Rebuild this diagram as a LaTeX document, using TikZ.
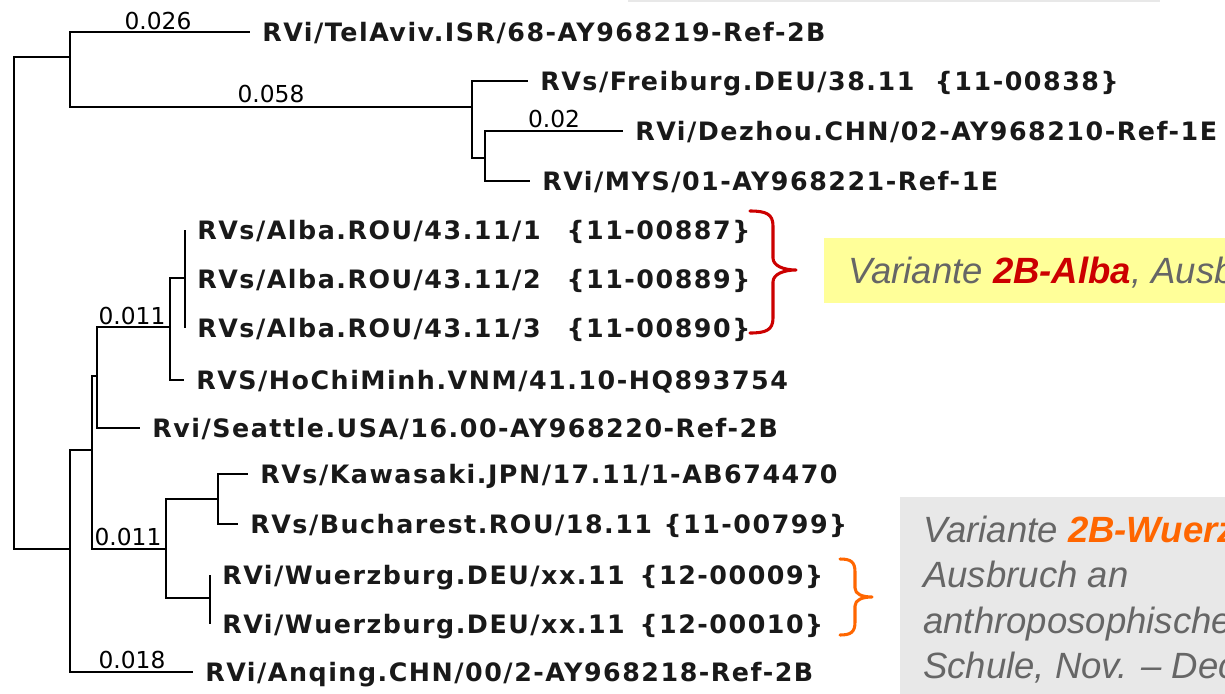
\documentclass[tikz,border=0pt]{standalone}
\usepackage{fontspec}
\setmainfont{Liberation Sans}
\newfontfamily\treefont[LetterSpace=6]{DejaVu Sans}
\newfontfamily\lenfont{DejaVu Sans}
\definecolor{altred}{HTML}{CC0000}
\definecolor{orng}{HTML}{FF6600}
\definecolor{txtgray}{HTML}{666666}
\definecolor{ylw}{HTML}{FFFF99}
\definecolor{lgray}{HTML}{E8E8E8}
\begin{document}
\begin{tikzpicture}[x=0.75pt,y=-0.75pt,
  leaf/.style={anchor=west, inner xsep=9pt, inner ysep=0pt,
    font=\treefont\bfseries\fontsize{19}{21}\selectfont,
    text height=13.9pt, text depth=0pt, text=black!90},
  blen/.style={anchor=base, inner sep=0pt, font=\lenfont\fontsize{17.5}{19}\selectfont},
  branch/.style={line width=1.4pt, black},
  ann/.style={anchor=base west, inner sep=0pt, text=txtgray,
    font=\itshape\fontsize{27.4}{34}\selectfont},
  bracestyle/.style={line width=2.3pt, line cap=round, line join=round}
]
\useasboundingbox (0,0) rectangle (1225,693);
\begin{scope}
\clip (0,0) rectangle (1225,693);
\fill[lgray] (628,-5) rectangle (1160,2);
\fill[ylw] (824,238) rectangle (1240,303);
\node[ann] (alba) at (848,283) {Variante \textbf{\color{altred}2B-Alba}, Ausbruch};
\fill[lgray] (900,497) rectangle (1240,700);
\node[ann] (w1) at (923,542) {Variante \textbf{\color{orng}2B-Wuerzburg},};
\node[ann] (w2) at (923,587) {Ausbruch an};
\node[ann] (w3) at (923,633) {anthroposophischen};
\node[ann] (w4) at (923,678) {Schule, Nov. -- Dec.};
\end{scope}

% internal nodes
\coordinate (root) at (14,303);
\coordinate (n1) at (70,57);
\coordinate (n2) at (472,107);
\coordinate (n3) at (485,158);
\coordinate (n4) at (70,549);
\coordinate (n5) at (92,450);
\coordinate (n6) at (97,376);
\coordinate (n7) at (170,327);
\coordinate (n8) at (185,278);
\coordinate (n9) at (166,549);
\coordinate (n10) at (218,499);
\coordinate (n11) at (210,598);

% leaves
\node[leaf] (telaviv) at (250,32) {RVi/TelAviv.ISR/68-AY968219-Ref-2B};
\node[leaf] (freiburg) at (528,81) {\makebox[296pt][l]{RVs/Freiburg.DEU/38.11}\{11-00838\}};
\node[leaf] (dezhou) at (623,131) {RVi/Dezhou.CHN/02-AY968210-Ref-1E};
\node[leaf] (mys) at (530,181) {RVi/MYS/01-AY968221-Ref-1E};
\node[leaf] (alba1) at (185,230) {\makebox[277pt][l]{RVs/Alba.ROU/43.11/1}\{11-00887\}};
\node[leaf] (alba2) at (185,279) {\makebox[277pt][l]{RVs/Alba.ROU/43.11/2}\{11-00889\}};
\node[leaf] (alba3) at (185,328) {\makebox[277pt][l]{RVs/Alba.ROU/43.11/3}\{11-00890\}};
\node[leaf] (hcm) at (184,380) {RVS/HoChiMinh.VNM/41.10-HQ893754};
\node[leaf] (seattle) at (140,428) {Rvi/Seattle.USA/16.00-AY968220-Ref-2B};
\node[leaf] (kawasaki) at (248,474) {RVs/Kawasaki.JPN/17.11/1-AB674470};
\node[leaf] (bucharest) at (238,524) {\makebox[310pt][l]{RVs/Bucharest.ROU/18.11}\{11-00799\}};
\node[leaf] (wuerz1) at (210,575) {\makebox[313pt][l]{RVi/Wuerzburg.DEU/xx.11}\{12-00009\}};
\node[leaf] (wuerz2) at (210,624) {\makebox[313pt][l]{RVi/Wuerzburg.DEU/xx.11}\{12-00010\}};
\node[leaf] (anqing) at (193,672) {RVi/Anqing.CHN/00/2-AY968218-Ref-2B};

% branches
\draw[branch] (root) |- (n1);
\draw[branch] (root) |- (n4);
\draw[branch] (n1) |- (telaviv.west);
\draw[branch] (n1) |- (n2);
\draw[branch] (n2) |- (freiburg.west);
\draw[branch] (n2) |- (n3);
\draw[branch] (n3) |- (dezhou.west);
\draw[branch] (n3) |- (mys.west);
\draw[branch] (n4) |- (n5);
\draw[branch] (n4) |- (anqing.west);
\draw[branch] (n5) |- (n6);
\draw[branch] (n5) |- (n9);
\draw[branch] (n6) |- (n7);
\draw[branch] (n6) |- (seattle.west);
\draw[branch] (n7) |- (n8);
\draw[branch] (n7) |- (hcm.west);
\draw[branch] (alba1.west) -- (alba3.west);
\draw[branch] (n9) |- (n10);
\draw[branch] (n9) |- (n11);
\draw[branch] (n10) |- (kawasaki.west);
\draw[branch] (n10) |- (bucharest.west);
\draw[branch] (wuerz1.west) -- (wuerz2.west);

% branch lengths
\node[blen] (l1) at (158,29) {0.026};
\node[blen] (l2) at (271,102) {0.058};
\node[blen] (l3) at (554,127) {0.02};
\node[blen] (l4) at (132,324) {0.011};
\node[blen] (l5) at (128,545) {0.011};
\node[blen] (l6) at (132,668) {0.018};

% braces
\draw[bracestyle, altred] (750,211) .. controls (766,211) and (773,214) .. (773,226)
  -- (773,258) .. controls (773,266) and (784,270) .. (796,270)
  .. controls (784,270) and (773,274) .. (773,282)
  -- (773,318) .. controls (773,330) and (766,333) .. (750,333);
\draw[bracestyle, orng] (840,559) .. controls (851,559) and (855,562) .. (855,572)
  -- (855,588) .. controls (855,594) and (862,597) .. (872,597)
  .. controls (862,597) and (855,600) .. (855,606)
  -- (855,622) .. controls (855,632) and (851,635) .. (840,635);
\end{tikzpicture}
\end{document}
